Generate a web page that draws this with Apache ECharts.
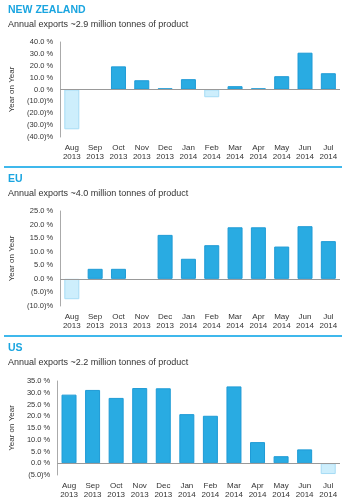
<!DOCTYPE html>
<html><head><meta charset="utf-8">
<script src="https://cdn.jsdelivr.net/npm/echarts@6/dist/echarts.min.js"></script>
<style>html,body{margin:0;padding:0;background:#fff}#c{width:350px;height:500px}</style>
</head><body><div id="c"></div>
<script>
const categories = ['Aug\n2013','Sep\n2013','Oct\n2013','Nov\n2013','Dec\n2013','Jan\n2014','Feb\n2014','Mar\n2014','Apr\n2014','May\n2014','Jun\n2014','Jul\n2014'];
const nzValues = [-33.5, 0, 19.5, 7.8, 1.0, 8.7, -6.5, 2.8, 1.0, 11.2, 31.0, 13.7];
const euValues = [-7.5, 3.7, 3.7, 0, 16.2, 7.4, 12.4, 19.0, 19.0, 11.9, 19.4, 13.9];
const usValues = [29.2, 31.2, 27.8, 32.0, 31.9, 20.9, 20.2, 32.7, 9.0, 3.0, 5.9, -4.6];
const nzTicks = {min: -40, max: 40, interval: 10};
const euTicks = {min: -10, max: 25, interval: 5};
const usTicks = {min: -5, max: 35, interval: 5};
const titles = ['NEW ZEALAND', 'EU', 'US'];
const subtitles = ['Annual exports ~2.9 million tonnes of product', 'Annual exports ~4.0 million tonnes of product', 'Annual exports ~2.2 million tonnes of product'];

const chart = echarts.init(document.getElementById('c'));
const FONT = '"Liberation Sans", Arial, sans-serif';
const gridTops = [42, 211, 381];
const titleTops = [0, 169, 338];
const ticks = [nzTicks, euTicks, usTicks];
const values = [nzValues, euValues, usValues];

function fmt(v) {
  return v >= 0 ? v.toFixed(1) + ' %' : '(' + (-v).toFixed(1) + ')%';
}
function barData(arr) {
  return arr.map(v => ({
    value: v,
    itemStyle: v < 0
      ? {color: '#cdeefc', borderColor: '#a6dcf5', borderWidth: 1}
      : (v === 0 ? {color: '#29abe2', borderWidth: 0}
                 : {color: '#29abe2', borderColor: '#1f9bd6', borderWidth: 1})
  }));
}

const option = {
  animation: false,
  textStyle: {fontFamily: FONT},
  title: [],
  grid: [],
  xAxis: [],
  yAxis: [],
  series: [],
  graphic: [
    {type: 'line', shape: {x1: 4, y1: 167, x2: 342, y2: 167}, style: {stroke: '#3fb8ec', lineWidth: 2}},
    {type: 'line', shape: {x1: 4, y1: 336, x2: 342, y2: 336}, style: {stroke: '#3fb8ec', lineWidth: 2}}
  ]
};

for (let i = 0; i < 3; i++) {
  option.title.push({
    text: titles[i], subtext: subtitles[i], left: 3, top: titleTops[i], itemGap: 4,
    textStyle: {fontSize: 10.5, fontWeight: 'bold', color: '#1aa5e0', fontFamily: FONT},
    subtextStyle: {fontSize: 9, color: '#333', fontFamily: FONT}
  });
  option.grid.push({left: 55, width: 285, top: gridTops[i], height: 95});
  option.xAxis.push({
    type: 'category', gridIndex: i, data: categories,
    axisLine: {show: false}, axisTick: {show: false},
    axisLabel: {fontSize: 8, color: '#333', lineHeight: 9.5, margin: 6, interval: 0}
  });
  option.yAxis.push({
    type: 'value', gridIndex: i, min: ticks[i].min, max: ticks[i].max, interval: ticks[i].interval,
    axisLine: {show: true, lineStyle: {color: '#aaa'}}, axisTick: {show: false},
    splitLine: {show: false},
    axisLabel: {formatter: fmt, fontSize: 7.5, color: '#333', margin: 7},
    name: 'Year on Year', nameLocation: 'middle', nameRotate: 90, nameGap: 41,
    nameTextStyle: {fontSize: 8, color: '#333'}
  });
  option.series.push({
    type: 'bar', xAxisIndex: i, yAxisIndex: i, barWidth: 15,
    data: barData(values[i]),
    markLine: {
      silent: true, symbol: ['none', 'none'], label: {show: false},
      lineStyle: {color: '#999', type: 'solid', width: 1},
      data: [{yAxis: 0}]
    }
  });
}
chart.setOption(option);
</script></body></html>
